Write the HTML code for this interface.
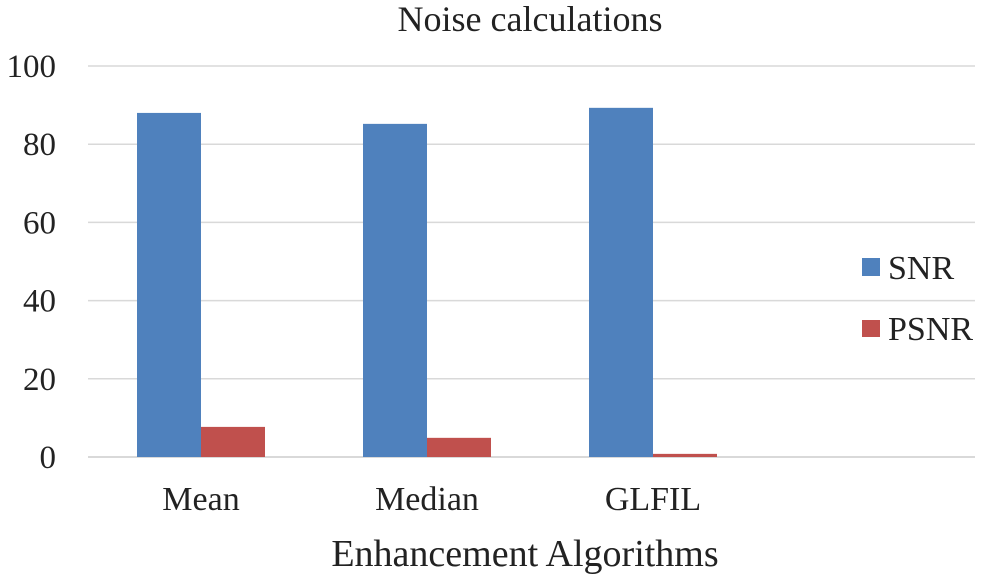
<!DOCTYPE html>
<html><head><meta charset="utf-8"><style>
body{margin:0;background:#fff;}
svg text{font-family:"Liberation Serif",serif;fill:#222;}
</style></head><body>
<svg width="990" height="575">
<text x="530" y="31" font-size="36" text-anchor="middle">Noise calculations</text>
<g id="grid"></g><g id="bars"></g><g id="xl"></g>
<text x="525" y="566" font-size="38" text-anchor="middle">Enhancement Algorithms</text>
<g>
<rect x="862" y="258" width="18" height="18" fill="#4f81bd"/>
<text x="888" y="279" font-size="34">SNR</text>
<rect x="862" y="320" width="18" height="17" fill="#c0504d"/>
<text x="888" y="340" font-size="34">PSNR</text>
</g>
</svg>
<script>
const categories=["Mean","Median","GLFIL",""];
const snr=[88.0,85.2,89.3];
const psnr=[7.7,4.9,0.8];
const yTicks=[0,20,40,60,80,100];
const ns="http://www.w3.org/2000/svg";
const x0=88,x1=975,yB=457,yT=66;
const slot=226;
const y=v=>yB-(v/100)*(yB-yT);
function mk(t,a,p){const e=document.createElementNS(ns,t);for(const k in a)e.setAttribute(k,a[k]);p.appendChild(e);return e;}
const g=document.getElementById('grid');
yTicks.forEach(t=>{
 const l=mk('line',{x1:x0,x2:x1,y1:y(t),y2:y(t),stroke:'#d9d9d9','stroke-width':t===0?2:1.5},g);
 
 
 const tx=mk('text',{x:56,y:y(t)+11,'font-size':33,'text-anchor':'end'},g);tx.textContent=t;
 
 
});
const b=document.getElementById('bars'),xl=document.getElementById('xl');
const bw=64;
categories.forEach((c,i)=>{
 const cx=x0+slot*(i+0.5);
 if(i<snr.length){
  const r1=mk('rect',{x:cx-bw,y:y(snr[i]),width:bw,height:yB-y(snr[i]),fill:'#4f81bd'},b);
  
  
  const r2=mk('rect',{x:cx,y:y(psnr[i]),width:bw,height:yB-y(psnr[i]),fill:'#c0504d'},b);
  
  
 }
 if(c){const t=mk('text',{x:cx,y:510,'font-size':34,'text-anchor':'middle'},xl);t.textContent=c;
 
 }
});
</script>
</body></html>
